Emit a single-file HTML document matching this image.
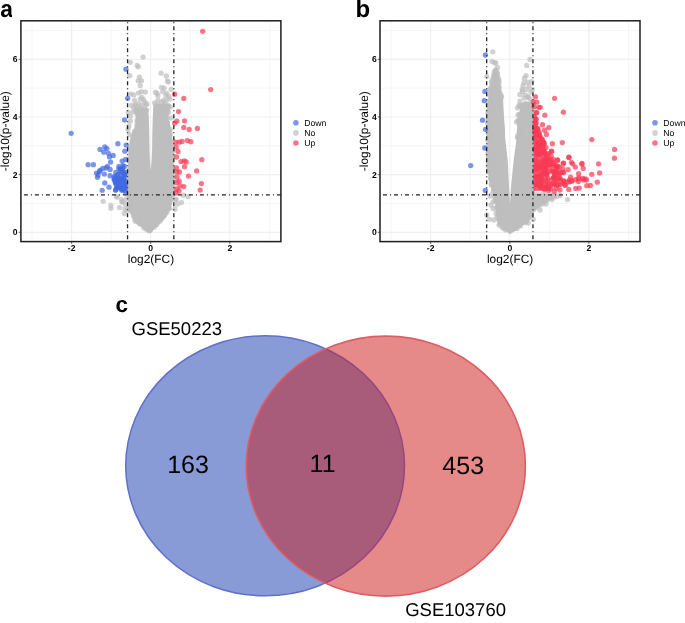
<!DOCTYPE html><html><head><meta charset="utf-8"><style>html,body{margin:0;padding:0;background:#fff;}svg{display:block;will-change:transform;}text{font-family:"Liberation Sans",sans-serif;fill:#000;text-rendering:geometricPrecision;}</style></head><body>
<svg width="685" height="623" viewBox="0 0 685 623">
<rect width="685" height="623" fill="#fff"/>
<defs><clipPath id="ca"><rect x="0" y="0" width="12.1" height="20"/></clipPath></defs><g clip-path="url(#ca)"><text transform="translate(0.2,16.8) scale(0.95,1)" font-size="24" font-weight="bold">a</text></g>
<text x="355.6" y="16.9" font-size="24" font-weight="bold">b</text>
<line x1="32.05" y1="20.8" x2="32.05" y2="241.6" stroke="#f6f6f6" stroke-width="1"/>
<line x1="111.15" y1="20.8" x2="111.15" y2="241.6" stroke="#f6f6f6" stroke-width="1"/>
<line x1="190.25" y1="20.8" x2="190.25" y2="241.6" stroke="#f6f6f6" stroke-width="1"/>
<line x1="269.35" y1="20.8" x2="269.35" y2="241.6" stroke="#f6f6f6" stroke-width="1"/>
<line x1="20.9" y1="203.47" x2="280.9" y2="203.47" stroke="#f6f6f6" stroke-width="1"/>
<line x1="20.9" y1="145.81" x2="280.9" y2="145.81" stroke="#f6f6f6" stroke-width="1"/>
<line x1="20.9" y1="88.15" x2="280.9" y2="88.15" stroke="#f6f6f6" stroke-width="1"/>
<line x1="20.9" y1="30.49" x2="280.9" y2="30.49" stroke="#f6f6f6" stroke-width="1"/>
<line x1="71.6" y1="20.8" x2="71.6" y2="241.6" stroke="#f0f0f0" stroke-width="1.2"/>
<line x1="150.7" y1="20.8" x2="150.7" y2="241.6" stroke="#f0f0f0" stroke-width="1.2"/>
<line x1="229.8" y1="20.8" x2="229.8" y2="241.6" stroke="#f0f0f0" stroke-width="1.2"/>
<line x1="20.9" y1="232.3" x2="280.9" y2="232.3" stroke="#f0f0f0" stroke-width="1.2"/>
<line x1="20.9" y1="174.64" x2="280.9" y2="174.64" stroke="#f0f0f0" stroke-width="1.2"/>
<line x1="20.9" y1="116.98" x2="280.9" y2="116.98" stroke="#f0f0f0" stroke-width="1.2"/>
<line x1="20.9" y1="59.32" x2="280.9" y2="59.32" stroke="#f0f0f0" stroke-width="1.2"/>
<path d="M150.6,233.4 L148.3,232.2 L143.5,228.6 L137.8,224.2 L133.5,219.8 L131.2,214.2 L129.3,206.9 L128.4,199.6 L127.8,195.0 L127.9,180.0 L128.2,170.0 L128.6,160.0 L129.2,150.0 L129.8,145.0 L130.8,140.0 L132.4,135.0 L134.0,130.0 L135.4,125.0 L136.0,120.0 L135.5,115.0 L134.8,111.0 L135.0,108.5 L138.0,107.8 L143.0,107.8 L148.3,108.2 L148.5,113.0 L148.9,120.0 L149.2,130.0 L149.4,140.0 L149.5,150.0 L149.9,160.0 L150.4,166.0 L150.7,171.0 L151.1,166.0 L151.6,160.0 L152.1,150.0 L152.2,140.0 L152.4,130.0 L152.7,120.0 L153.0,112.0 L153.3,106.0 L155.0,104.2 L160.0,103.8 L165.0,103.8 L169.5,104.5 L170.0,108.0 L169.3,112.0 L168.2,115.0 L168.5,120.0 L170.0,125.0 L171.0,130.0 L172.0,140.0 L173.0,150.0 L173.4,165.0 L173.6,180.0 L173.6,195.0 L172.8,199.6 L171.0,206.9 L167.2,214.2 L162.8,220.0 L158.5,224.4 L154.3,228.6 L152.6,231.6Z" fill="rgb(190,190,190)" fill-opacity="1.0"/><g fill="rgb(190,190,190)" fill-opacity="0.7"><circle cx="148.8" cy="230.8" r="2.65"/><circle cx="146.8" cy="229.6" r="2.65"/><circle cx="145.7" cy="226.9" r="2.65"/><circle cx="143.9" cy="228.1" r="2.65"/><circle cx="143.0" cy="225.5" r="2.65"/><circle cx="140.2" cy="224.1" r="2.65"/><circle cx="139.0" cy="223.1" r="2.65"/><circle cx="138.6" cy="221.6" r="2.65"/><circle cx="135.8" cy="221.4" r="2.65"/><circle cx="134.8" cy="219.9" r="2.65"/><circle cx="135.4" cy="217.5" r="2.65"/><circle cx="133.3" cy="216.0" r="2.65"/><circle cx="134.3" cy="214.5" r="2.65"/><circle cx="132.3" cy="212.2" r="2.65"/><circle cx="130.9" cy="210.9" r="2.65"/><circle cx="130.3" cy="209.1" r="2.65"/><circle cx="130.3" cy="207.8" r="2.65"/><circle cx="129.6" cy="206.0" r="2.65"/><circle cx="131.4" cy="203.2" r="2.65"/><circle cx="131.0" cy="202.7" r="2.65"/><circle cx="130.1" cy="199.5" r="2.65"/><circle cx="130.2" cy="197.9" r="2.65"/><circle cx="129.7" cy="195.9" r="2.65"/><circle cx="129.1" cy="194.4" r="2.65"/><circle cx="128.3" cy="192.0" r="2.65"/><circle cx="128.2" cy="190.0" r="2.65"/><circle cx="128.1" cy="187.8" r="2.65"/><circle cx="130.2" cy="186.3" r="2.65"/><circle cx="128.2" cy="184.0" r="2.65"/><circle cx="129.2" cy="182.1" r="2.65"/><circle cx="130.1" cy="180.6" r="2.65"/><circle cx="129.3" cy="178.4" r="2.65"/><circle cx="130.6" cy="177.5" r="2.65"/><circle cx="128.3" cy="174.3" r="2.65"/><circle cx="128.8" cy="173.8" r="2.65"/><circle cx="130.6" cy="171.3" r="2.65"/><circle cx="129.0" cy="169.4" r="2.65"/><circle cx="131.0" cy="166.4" r="2.65"/><circle cx="131.1" cy="164.9" r="2.65"/><circle cx="130.4" cy="162.6" r="2.65"/><circle cx="128.8" cy="160.2" r="2.65"/><circle cx="128.9" cy="159.0" r="2.65"/><circle cx="131.4" cy="157.5" r="2.65"/><circle cx="131.6" cy="155.0" r="2.65"/><circle cx="130.7" cy="153.7" r="2.65"/><circle cx="131.5" cy="150.9" r="2.65"/><circle cx="129.8" cy="150.0" r="2.65"/><circle cx="129.9" cy="146.8" r="2.65"/><circle cx="132.0" cy="143.1" r="2.65"/><circle cx="131.9" cy="141.6" r="2.65"/><circle cx="132.5" cy="138.8" r="2.65"/><circle cx="133.2" cy="136.5" r="2.65"/><circle cx="134.6" cy="133.1" r="2.65"/><circle cx="134.4" cy="131.7" r="2.65"/><circle cx="136.1" cy="129.9" r="2.65"/><circle cx="136.8" cy="125.4" r="2.65"/><circle cx="138.3" cy="124.0" r="2.65"/><circle cx="137.1" cy="121.6" r="2.65"/><circle cx="137.2" cy="119.8" r="2.65"/><circle cx="138.2" cy="115.7" r="2.65"/><circle cx="136.8" cy="113.5" r="2.65"/><circle cx="136.8" cy="111.3" r="2.65"/><circle cx="135.8" cy="109.3" r="2.65"/><circle cx="135.7" cy="111.1" r="2.65"/><circle cx="139.7" cy="108.1" r="2.65"/><circle cx="141.1" cy="109.4" r="2.65"/><circle cx="144.4" cy="109.9" r="2.65"/><circle cx="146.5" cy="110.1" r="2.65"/><circle cx="156.0" cy="105.4" r="2.65"/><circle cx="158.4" cy="105.8" r="2.65"/><circle cx="161.9" cy="106.5" r="2.65"/><circle cx="163.9" cy="104.7" r="2.65"/><circle cx="165.4" cy="106.1" r="2.65"/><circle cx="168.7" cy="106.6" r="2.65"/><circle cx="167.9" cy="105.4" r="2.65"/><circle cx="167.3" cy="109.0" r="2.65"/><circle cx="167.6" cy="110.3" r="2.65"/><circle cx="166.8" cy="113.9" r="2.65"/><circle cx="166.0" cy="117.3" r="2.65"/><circle cx="167.3" cy="118.4" r="2.65"/><circle cx="167.6" cy="122.7" r="2.65"/><circle cx="167.0" cy="123.8" r="2.65"/><circle cx="168.0" cy="126.8" r="2.65"/><circle cx="170.3" cy="129.6" r="2.65"/><circle cx="169.0" cy="130.6" r="2.65"/><circle cx="170.2" cy="133.7" r="2.65"/><circle cx="169.7" cy="135.8" r="2.65"/><circle cx="169.6" cy="136.5" r="2.65"/><circle cx="169.9" cy="139.8" r="2.65"/><circle cx="170.4" cy="140.9" r="2.65"/><circle cx="170.6" cy="143.0" r="2.65"/><circle cx="170.2" cy="146.1" r="2.65"/><circle cx="172.3" cy="146.0" r="2.65"/><circle cx="172.7" cy="149.8" r="2.65"/><circle cx="172.7" cy="150.8" r="2.65"/><circle cx="170.9" cy="153.7" r="2.65"/><circle cx="172.5" cy="155.2" r="2.65"/><circle cx="171.7" cy="156.9" r="2.65"/><circle cx="171.3" cy="158.1" r="2.65"/><circle cx="170.6" cy="159.9" r="2.65"/><circle cx="171.3" cy="162.4" r="2.65"/><circle cx="170.7" cy="164.7" r="2.65"/><circle cx="172.4" cy="166.7" r="2.65"/><circle cx="173.0" cy="168.6" r="2.65"/><circle cx="172.2" cy="170.5" r="2.65"/><circle cx="172.6" cy="170.7" r="2.65"/><circle cx="171.5" cy="172.8" r="2.65"/><circle cx="172.1" cy="175.6" r="2.65"/><circle cx="173.2" cy="177.0" r="2.65"/><circle cx="171.7" cy="179.3" r="2.65"/><circle cx="173.0" cy="180.5" r="2.65"/><circle cx="172.8" cy="182.8" r="2.65"/><circle cx="171.3" cy="184.4" r="2.65"/><circle cx="172.9" cy="186.6" r="2.65"/><circle cx="172.9" cy="187.8" r="2.65"/><circle cx="172.9" cy="191.1" r="2.65"/><circle cx="170.8" cy="192.8" r="2.65"/><circle cx="173.0" cy="194.3" r="2.65"/><circle cx="171.5" cy="194.8" r="2.65"/><circle cx="171.7" cy="197.7" r="2.65"/><circle cx="171.1" cy="200.0" r="2.65"/><circle cx="169.3" cy="202.2" r="2.65"/><circle cx="169.5" cy="202.8" r="2.65"/><circle cx="168.8" cy="204.7" r="2.65"/><circle cx="169.6" cy="208.4" r="2.65"/><circle cx="168.6" cy="208.2" r="2.65"/><circle cx="167.0" cy="210.2" r="2.65"/><circle cx="166.8" cy="212.5" r="2.65"/><circle cx="165.1" cy="213.9" r="2.65"/><circle cx="164.3" cy="214.8" r="2.65"/><circle cx="163.8" cy="216.5" r="2.65"/><circle cx="161.7" cy="218.5" r="2.65"/><circle cx="161.0" cy="218.5" r="2.65"/><circle cx="160.0" cy="221.2" r="2.65"/><circle cx="157.5" cy="222.8" r="2.65"/><circle cx="156.5" cy="224.7" r="2.65"/><circle cx="155.2" cy="225.1" r="2.65"/><circle cx="154.3" cy="227.2" r="2.65"/></g><g fill="rgb(190,190,190)" fill-opacity="0.7"><circle cx="143.1" cy="57.1" r="2.65"/><circle cx="130.3" cy="62.3" r="2.65"/><circle cx="137.2" cy="65.4" r="2.65"/><circle cx="138.2" cy="66.8" r="2.65"/><circle cx="129.8" cy="75.6" r="2.65"/><circle cx="139.4" cy="77.2" r="2.65"/><circle cx="138.2" cy="80.8" r="2.65"/><circle cx="141.5" cy="80.8" r="2.65"/><circle cx="140.2" cy="85.6" r="2.65"/><circle cx="161.1" cy="73.2" r="2.65"/><circle cx="166.3" cy="76.0" r="2.65"/><circle cx="168.3" cy="82.0" r="2.65"/><circle cx="167.5" cy="81.0" r="2.65"/><circle cx="171.1" cy="89.3" r="2.65"/><circle cx="141.5" cy="91.7" r="2.65"/><circle cx="145.5" cy="92.1" r="2.65"/><circle cx="138.6" cy="92.9" r="2.65"/><circle cx="133.8" cy="94.9" r="2.65"/><circle cx="130.6" cy="94.1" r="2.65"/><circle cx="141.9" cy="97.3" r="2.65"/><circle cx="140.2" cy="98.9" r="2.65"/><circle cx="143.5" cy="99.7" r="2.65"/><circle cx="134.6" cy="100.5" r="2.65"/><circle cx="144.7" cy="102.1" r="2.65"/><circle cx="131.4" cy="105.3" r="2.65"/><circle cx="135.4" cy="104.5" r="2.65"/><circle cx="139.0" cy="103.7" r="2.65"/><circle cx="145.5" cy="105.3" r="2.65"/><circle cx="142.0" cy="105.5" r="2.65"/><circle cx="147.0" cy="104.0" r="2.65"/><circle cx="128.2" cy="112.5" r="2.65"/><circle cx="133.8" cy="107.7" r="2.65"/><circle cx="133.0" cy="111.7" r="2.65"/><circle cx="136.5" cy="106.0" r="2.65"/><circle cx="161.5" cy="87.3" r="2.65"/><circle cx="164.3" cy="88.1" r="2.65"/><circle cx="157.1" cy="93.3" r="2.65"/><circle cx="155.5" cy="92.5" r="2.65"/><circle cx="157.9" cy="95.7" r="2.65"/><circle cx="162.7" cy="91.7" r="2.65"/><circle cx="166.7" cy="93.3" r="2.65"/><circle cx="165.9" cy="95.7" r="2.65"/><circle cx="168.7" cy="96.5" r="2.65"/><circle cx="170.0" cy="98.9" r="2.65"/><circle cx="154.7" cy="102.9" r="2.65"/><circle cx="163.5" cy="100.5" r="2.65"/><circle cx="161.1" cy="102.1" r="2.65"/><circle cx="166.0" cy="101.0" r="2.65"/><circle cx="158.0" cy="100.5" r="2.65"/><circle cx="170.3" cy="106.9" r="2.65"/><circle cx="128.0" cy="129.5" r="2.65"/><circle cx="129.9" cy="134.7" r="2.65"/><circle cx="130.5" cy="121.0" r="2.65"/><circle cx="129.0" cy="126.0" r="2.65"/><circle cx="171.5" cy="118.0" r="2.65"/><circle cx="168.4" cy="112.2" r="2.65"/><circle cx="130.5" cy="116.0" r="2.65"/><circle cx="103.2" cy="201.3" r="2.65"/><circle cx="110.9" cy="205.3" r="2.65"/><circle cx="110.9" cy="208.3" r="2.65"/><circle cx="119.6" cy="207.6" r="2.65"/><circle cx="121.9" cy="201.8" r="2.65"/><circle cx="124.3" cy="213.5" r="2.65"/><circle cx="117.2" cy="197.1" r="2.65"/><circle cx="116.4" cy="196.5" r="2.65"/><circle cx="121.6" cy="199.7" r="2.65"/><circle cx="122.8" cy="202.2" r="2.65"/><circle cx="124.8" cy="208.6" r="2.65"/><circle cx="125.5" cy="204.0" r="2.65"/><circle cx="126.5" cy="199.0" r="2.65"/><circle cx="127.0" cy="210.0" r="2.65"/><circle cx="181.5" cy="202.5" r="2.65"/><circle cx="188.0" cy="196.6" r="2.65"/><circle cx="183.4" cy="195.2" r="2.65"/><circle cx="175.7" cy="199.4" r="2.65"/><circle cx="176.1" cy="199.7" r="2.65"/><circle cx="177.5" cy="204.0" r="2.65"/><circle cx="175.0" cy="209.0" r="2.65"/></g><g fill="rgb(65,105,225)" fill-opacity="0.7"><circle cx="118.7" cy="177.6" r="2.65"/><circle cx="124.4" cy="174.7" r="2.65"/><circle cx="119.4" cy="178.5" r="2.65"/><circle cx="115.5" cy="176.1" r="2.65"/><circle cx="120.9" cy="185.0" r="2.65"/><circle cx="125.1" cy="190.4" r="2.65"/><circle cx="121.1" cy="179.4" r="2.65"/><circle cx="118.6" cy="186.5" r="2.65"/><circle cx="119.5" cy="180.2" r="2.65"/><circle cx="119.3" cy="180.9" r="2.65"/><circle cx="118.8" cy="168.8" r="2.65"/><circle cx="125.3" cy="191.4" r="2.65"/><circle cx="123.4" cy="182.3" r="2.65"/><circle cx="122.5" cy="172.6" r="2.65"/><circle cx="123.5" cy="172.2" r="2.65"/><circle cx="124.8" cy="186.7" r="2.65"/><circle cx="124.2" cy="174.8" r="2.65"/><circle cx="125.1" cy="172.5" r="2.65"/><circle cx="114.2" cy="179.8" r="2.65"/><circle cx="122.6" cy="168.5" r="2.65"/><circle cx="124.9" cy="183.9" r="2.65"/><circle cx="122.9" cy="165.6" r="2.65"/><circle cx="120.0" cy="174.1" r="2.65"/><circle cx="115.6" cy="183.1" r="2.65"/><circle cx="114.9" cy="180.3" r="2.65"/><circle cx="125.0" cy="185.3" r="2.65"/><circle cx="116.9" cy="187.9" r="2.65"/><circle cx="115.8" cy="172.4" r="2.65"/><circle cx="123.6" cy="180.2" r="2.65"/><circle cx="122.6" cy="170.4" r="2.65"/><circle cx="114.4" cy="178.4" r="2.65"/><circle cx="116.2" cy="178.9" r="2.65"/><circle cx="117.8" cy="174.3" r="2.65"/><circle cx="124.8" cy="175.2" r="2.65"/><circle cx="120.2" cy="187.3" r="2.65"/><circle cx="124.2" cy="185.8" r="2.65"/><circle cx="122.2" cy="189.6" r="2.65"/><circle cx="115.7" cy="189.9" r="2.65"/><circle cx="123.9" cy="179.0" r="2.65"/><circle cx="116.2" cy="182.2" r="2.65"/><circle cx="116.4" cy="185.9" r="2.65"/><circle cx="120.5" cy="169.2" r="2.65"/><circle cx="115.4" cy="182.7" r="2.65"/><circle cx="120.0" cy="186.9" r="2.65"/><circle cx="120.7" cy="168.8" r="2.65"/><circle cx="124.3" cy="166.4" r="2.65"/><circle cx="117.6" cy="188.1" r="2.65"/><circle cx="125.1" cy="180.7" r="2.65"/><circle cx="121.6" cy="178.4" r="2.65"/><circle cx="121.7" cy="190.3" r="2.65"/><circle cx="119.1" cy="183.0" r="2.65"/><circle cx="114.2" cy="177.2" r="2.65"/><circle cx="122.1" cy="188.4" r="2.65"/><circle cx="122.1" cy="182.2" r="2.65"/><circle cx="122.8" cy="188.8" r="2.65"/><circle cx="117.5" cy="181.6" r="2.65"/><circle cx="124.1" cy="187.4" r="2.65"/><circle cx="118.3" cy="184.9" r="2.65"/><circle cx="123.7" cy="178.0" r="2.65"/><circle cx="120.8" cy="172.0" r="2.65"/></g><g fill="rgb(65,105,225)" fill-opacity="0.7"><circle cx="71.2" cy="133.3" r="2.65"/><circle cx="117.9" cy="143.7" r="2.65"/><circle cx="126.2" cy="145.1" r="2.65"/><circle cx="124.8" cy="151.2" r="2.65"/><circle cx="100.1" cy="149.4" r="2.65"/><circle cx="104.8" cy="147.0" r="2.65"/><circle cx="106.9" cy="148.6" r="2.65"/><circle cx="103.8" cy="152.2" r="2.65"/><circle cx="108.5" cy="153.3" r="2.65"/><circle cx="113.2" cy="155.4" r="2.65"/><circle cx="109.5" cy="156.9" r="2.65"/><circle cx="110.6" cy="162.1" r="2.65"/><circle cx="88.1" cy="164.7" r="2.65"/><circle cx="93.4" cy="164.7" r="2.65"/><circle cx="125.7" cy="159.5" r="2.65"/><circle cx="122.1" cy="161.1" r="2.65"/><circle cx="107.4" cy="166.3" r="2.65"/><circle cx="102.7" cy="168.4" r="2.65"/><circle cx="96.5" cy="173.1" r="2.65"/><circle cx="97.5" cy="177.3" r="2.65"/><circle cx="99.6" cy="171.5" r="2.65"/><circle cx="104.3" cy="174.1" r="2.65"/><circle cx="110.1" cy="169.4" r="2.65"/><circle cx="118.9" cy="166.3" r="2.65"/><circle cx="110.1" cy="175.7" r="2.65"/><circle cx="104.8" cy="183.0" r="2.65"/><circle cx="109.0" cy="187.2" r="2.65"/><circle cx="102.2" cy="190.3" r="2.65"/><circle cx="106.0" cy="168.0" r="2.65"/><circle cx="100.0" cy="170.5" r="2.65"/><circle cx="98.0" cy="175.0" r="2.65"/><circle cx="125.9" cy="69.2" r="2.65"/><circle cx="127.6" cy="98.3" r="2.65"/><circle cx="124.5" cy="119.9" r="2.65"/><circle cx="115.5" cy="190.1" r="2.65"/></g><g fill="rgb(248,58,85)" fill-opacity="0.7"><circle cx="202.7" cy="31.3" r="2.65"/><circle cx="210.7" cy="89.6" r="2.65"/><circle cx="174.7" cy="94.2" r="2.65"/><circle cx="183.8" cy="98.4" r="2.65"/><circle cx="178.5" cy="111.6" r="2.65"/><circle cx="176.9" cy="121.1" r="2.65"/><circle cx="174.7" cy="123.1" r="2.65"/><circle cx="184.5" cy="120.8" r="2.65"/><circle cx="183.8" cy="127.5" r="2.65"/><circle cx="189.2" cy="129.5" r="2.65"/><circle cx="197.4" cy="128.4" r="2.65"/><circle cx="175.7" cy="142.2" r="2.65"/><circle cx="179.2" cy="142.2" r="2.65"/><circle cx="182.0" cy="141.5" r="2.65"/><circle cx="187.3" cy="140.6" r="2.65"/><circle cx="190.8" cy="141.7" r="2.65"/><circle cx="178.0" cy="151.5" r="2.65"/><circle cx="201.8" cy="159.7" r="2.65"/><circle cx="181.0" cy="161.6" r="2.65"/><circle cx="184.3" cy="160.9" r="2.65"/><circle cx="186.2" cy="162.0" r="2.65"/><circle cx="176.4" cy="167.9" r="2.65"/><circle cx="184.5" cy="166.7" r="2.65"/><circle cx="196.7" cy="170.9" r="2.65"/><circle cx="176.8" cy="171.9" r="2.65"/><circle cx="179.5" cy="172.0" r="2.65"/><circle cx="188.5" cy="176.1" r="2.65"/><circle cx="179.2" cy="181.2" r="2.65"/><circle cx="176.5" cy="182.5" r="2.65"/><circle cx="201.4" cy="183.6" r="2.65"/><circle cx="183.8" cy="186.6" r="2.65"/><circle cx="200.2" cy="190.1" r="2.65"/><circle cx="176.8" cy="188.9" r="2.65"/><circle cx="179.0" cy="191.0" r="2.65"/><circle cx="176.2" cy="147.0" r="2.65"/><circle cx="176.5" cy="157.0" r="2.65"/><circle cx="177.0" cy="177.0" r="2.65"/><circle cx="180.0" cy="186.0" r="2.65"/><circle cx="176.0" cy="193.0" r="2.65"/></g>
<line x1="127.56" y1="241.6" x2="127.56" y2="20.8" stroke="#222" stroke-width="1.3" stroke-dasharray="1 3 4 3" stroke-dashoffset="1.7"/>
<line x1="173.84" y1="241.6" x2="173.84" y2="20.8" stroke="#222" stroke-width="1.3" stroke-dasharray="1 3 4 3" stroke-dashoffset="1.7"/>
<line x1="20.9" y1="194.79" x2="280.9" y2="194.79" stroke="#222" stroke-width="1.3" stroke-dasharray="4 3 1 3" stroke-dashoffset="-3"/>
<rect x="20.9" y="20.8" width="260.0" height="220.79999999999998" fill="none" stroke="#1e1e1e" stroke-width="1.5"/>
<line x1="71.6" y1="241.6" x2="71.6" y2="243.79999999999998" stroke="#333" stroke-width="0.8"/>
<text x="71.6" y="250.9" font-size="8.6" font-weight="bold" text-anchor="middle">-2</text>
<line x1="150.7" y1="241.6" x2="150.7" y2="243.79999999999998" stroke="#333" stroke-width="0.8"/>
<text x="150.7" y="250.9" font-size="8.6" font-weight="bold" text-anchor="middle">0</text>
<line x1="229.8" y1="241.6" x2="229.8" y2="243.79999999999998" stroke="#333" stroke-width="0.8"/>
<text x="229.8" y="250.9" font-size="8.6" font-weight="bold" text-anchor="middle">2</text>
<line x1="18.7" y1="232.3" x2="20.9" y2="232.3" stroke="#333" stroke-width="0.8"/>
<text x="17.6" y="235.4" font-size="8.6" font-weight="bold" text-anchor="end">0</text>
<line x1="18.7" y1="174.64" x2="20.9" y2="174.64" stroke="#333" stroke-width="0.8"/>
<text x="17.6" y="177.73999999999998" font-size="8.6" font-weight="bold" text-anchor="end">2</text>
<line x1="18.7" y1="116.98" x2="20.9" y2="116.98" stroke="#333" stroke-width="0.8"/>
<text x="17.6" y="120.08" font-size="8.6" font-weight="bold" text-anchor="end">4</text>
<line x1="18.7" y1="59.32" x2="20.9" y2="59.32" stroke="#333" stroke-width="0.8"/>
<text x="17.6" y="62.42" font-size="8.6" font-weight="bold" text-anchor="end">6</text>
<text x="151" y="263.3" font-size="11.9" text-anchor="middle">log2(FC)</text>
<text transform="translate(8.9,131.2) rotate(-90)" font-size="11.9" text-anchor="middle">-log10(p-value)</text>
<circle cx="295.9" cy="122.8" r="2.8" fill="rgb(65,105,225)" fill-opacity="0.7"/>
<text x="304.2" y="125.7" font-size="8.7">Down</text>
<circle cx="295.9" cy="132.9" r="2.8" fill="rgb(190,190,190)" fill-opacity="0.7"/>
<text x="304.2" y="135.8" font-size="8.7">No</text>
<circle cx="295.9" cy="143.0" r="2.8" fill="rgb(248,58,85)" fill-opacity="0.7"/>
<text x="304.2" y="145.9" font-size="8.7">Up</text>
<line x1="391.15" y1="20.8" x2="391.15" y2="241.6" stroke="#f6f6f6" stroke-width="1"/>
<line x1="470.25" y1="20.8" x2="470.25" y2="241.6" stroke="#f6f6f6" stroke-width="1"/>
<line x1="549.35" y1="20.8" x2="549.35" y2="241.6" stroke="#f6f6f6" stroke-width="1"/>
<line x1="628.45" y1="20.8" x2="628.45" y2="241.6" stroke="#f6f6f6" stroke-width="1"/>
<line x1="380.0" y1="203.47" x2="640.0" y2="203.47" stroke="#f6f6f6" stroke-width="1"/>
<line x1="380.0" y1="145.81" x2="640.0" y2="145.81" stroke="#f6f6f6" stroke-width="1"/>
<line x1="380.0" y1="88.15" x2="640.0" y2="88.15" stroke="#f6f6f6" stroke-width="1"/>
<line x1="380.0" y1="30.49" x2="640.0" y2="30.49" stroke="#f6f6f6" stroke-width="1"/>
<line x1="430.7" y1="20.8" x2="430.7" y2="241.6" stroke="#f0f0f0" stroke-width="1.2"/>
<line x1="509.8" y1="20.8" x2="509.8" y2="241.6" stroke="#f0f0f0" stroke-width="1.2"/>
<line x1="588.9" y1="20.8" x2="588.9" y2="241.6" stroke="#f0f0f0" stroke-width="1.2"/>
<line x1="380.0" y1="232.3" x2="640.0" y2="232.3" stroke="#f0f0f0" stroke-width="1.2"/>
<line x1="380.0" y1="174.64" x2="640.0" y2="174.64" stroke="#f0f0f0" stroke-width="1.2"/>
<line x1="380.0" y1="116.98" x2="640.0" y2="116.98" stroke="#f0f0f0" stroke-width="1.2"/>
<line x1="380.0" y1="59.32" x2="640.0" y2="59.32" stroke="#f0f0f0" stroke-width="1.2"/>
<path d="M509.8,234.2 L506.3,231.5 L501.2,227.0 L498.0,222.5 L496.5,217.0 L495.8,210.0 L495.3,203.0 L494.3,197.0 L492.5,192.0 L490.5,186.0 L488.8,177.0 L487.8,168.0 L487.6,150.0 L487.4,130.0 L487.4,110.0 L487.8,104.0 L488.8,97.0 L489.8,90.0 L491.0,82.0 L492.5,75.0 L494.0,70.5 L495.8,69.0 L497.3,70.5 L498.5,75.0 L499.6,82.0 L500.5,90.0 L503.1,99.6 L503.6,109.3 L504.1,118.9 L505.0,128.5 L505.2,138.2 L506.0,145.0 L507.0,154.6 L508.0,164.3 L508.4,173.9 L508.9,183.5 L509.4,193.2 L510.0,204.0 L510.6,193.2 L511.3,183.5 L512.3,173.9 L513.2,164.3 L514.4,154.6 L515.8,145.0 L516.4,138.2 L517.2,128.5 L517.8,118.9 L519.5,112.0 L520.5,108.0 L521.0,104.0 L524.0,102.5 L528.0,102.0 L531.0,103.0 L533.5,104.0 L533.5,194.0 L548.0,194.2 L556.0,194.6 L553.0,197.5 L549.0,200.0 L543.8,203.5 L538.0,207.5 L534.0,212.0 L530.5,219.0 L524.0,224.5 L516.0,230.5Z" fill="rgb(190,190,190)" fill-opacity="1.0"/><g fill="rgb(190,190,190)" fill-opacity="0.7"><circle cx="505.8" cy="229.9" r="2.65"/><circle cx="503.5" cy="228.5" r="2.65"/><circle cx="501.9" cy="227.1" r="2.65"/><circle cx="502.5" cy="226.0" r="2.65"/><circle cx="500.0" cy="223.4" r="2.65"/><circle cx="500.1" cy="221.2" r="2.65"/><circle cx="499.8" cy="221.1" r="2.65"/><circle cx="498.5" cy="219.3" r="2.65"/><circle cx="499.2" cy="218.2" r="2.65"/><circle cx="496.9" cy="216.3" r="2.65"/><circle cx="498.5" cy="212.6" r="2.65"/><circle cx="498.3" cy="210.2" r="2.65"/><circle cx="498.2" cy="208.4" r="2.65"/><circle cx="496.2" cy="207.6" r="2.65"/><circle cx="497.7" cy="204.7" r="2.65"/><circle cx="495.5" cy="200.9" r="2.65"/><circle cx="495.2" cy="200.4" r="2.65"/><circle cx="495.5" cy="197.8" r="2.65"/><circle cx="494.4" cy="196.4" r="2.65"/><circle cx="493.0" cy="192.7" r="2.65"/><circle cx="493.8" cy="189.6" r="2.65"/><circle cx="493.8" cy="188.5" r="2.65"/><circle cx="493.6" cy="186.9" r="2.65"/><circle cx="491.6" cy="185.2" r="2.65"/><circle cx="491.2" cy="184.0" r="2.65"/><circle cx="491.7" cy="181.4" r="2.65"/><circle cx="490.7" cy="178.8" r="2.65"/><circle cx="490.6" cy="177.9" r="2.65"/><circle cx="491.3" cy="175.4" r="2.65"/><circle cx="491.1" cy="173.1" r="2.65"/><circle cx="488.8" cy="172.0" r="2.65"/><circle cx="488.9" cy="171.5" r="2.65"/><circle cx="489.2" cy="169.0" r="2.65"/><circle cx="490.5" cy="168.0" r="2.65"/><circle cx="488.1" cy="165.9" r="2.65"/><circle cx="488.6" cy="164.0" r="2.65"/><circle cx="488.1" cy="160.9" r="2.65"/><circle cx="489.6" cy="160.2" r="2.65"/><circle cx="488.5" cy="158.0" r="2.65"/><circle cx="488.5" cy="157.0" r="2.65"/><circle cx="488.2" cy="154.0" r="2.65"/><circle cx="488.0" cy="153.5" r="2.65"/><circle cx="489.5" cy="151.6" r="2.65"/><circle cx="488.0" cy="148.9" r="2.65"/><circle cx="488.0" cy="147.6" r="2.65"/><circle cx="489.5" cy="145.4" r="2.65"/><circle cx="489.9" cy="143.9" r="2.65"/><circle cx="489.9" cy="142.6" r="2.65"/><circle cx="487.7" cy="139.7" r="2.65"/><circle cx="490.2" cy="138.8" r="2.65"/><circle cx="488.9" cy="135.5" r="2.65"/><circle cx="489.6" cy="134.7" r="2.65"/><circle cx="488.1" cy="132.5" r="2.65"/><circle cx="489.1" cy="131.0" r="2.65"/><circle cx="487.8" cy="129.9" r="2.65"/><circle cx="488.9" cy="128.1" r="2.65"/><circle cx="489.9" cy="124.8" r="2.65"/><circle cx="487.7" cy="123.2" r="2.65"/><circle cx="488.2" cy="121.6" r="2.65"/><circle cx="489.1" cy="120.7" r="2.65"/><circle cx="488.0" cy="118.8" r="2.65"/><circle cx="489.0" cy="116.7" r="2.65"/><circle cx="488.0" cy="113.6" r="2.65"/><circle cx="489.0" cy="111.9" r="2.65"/><circle cx="488.3" cy="110.9" r="2.65"/><circle cx="489.5" cy="109.2" r="2.65"/><circle cx="490.0" cy="107.4" r="2.65"/><circle cx="487.9" cy="105.3" r="2.65"/><circle cx="489.3" cy="101.9" r="2.65"/><circle cx="490.2" cy="100.8" r="2.65"/><circle cx="490.6" cy="99.4" r="2.65"/><circle cx="489.6" cy="95.3" r="2.65"/><circle cx="490.0" cy="93.9" r="2.65"/><circle cx="490.7" cy="90.7" r="2.65"/><circle cx="490.8" cy="88.8" r="2.65"/><circle cx="491.2" cy="87.4" r="2.65"/><circle cx="492.0" cy="85.7" r="2.65"/><circle cx="491.9" cy="82.6" r="2.65"/><circle cx="491.5" cy="81.4" r="2.65"/><circle cx="493.1" cy="78.4" r="2.65"/><circle cx="493.4" cy="77.6" r="2.65"/><circle cx="493.7" cy="74.8" r="2.65"/><circle cx="494.2" cy="71.9" r="2.65"/><circle cx="495.6" cy="70.1" r="2.65"/><circle cx="495.5" cy="70.3" r="2.65"/><circle cx="497.1" cy="72.3" r="2.65"/><circle cx="497.5" cy="73.7" r="2.65"/><circle cx="497.8" cy="77.2" r="2.65"/><circle cx="498.9" cy="79.7" r="2.65"/><circle cx="498.0" cy="81.1" r="2.65"/><circle cx="499.0" cy="82.4" r="2.65"/><circle cx="498.5" cy="86.0" r="2.65"/><circle cx="499.3" cy="87.5" r="2.65"/><circle cx="498.1" cy="89.7" r="2.65"/><circle cx="499.7" cy="91.8" r="2.65"/><circle cx="499.7" cy="93.6" r="2.65"/><circle cx="501.1" cy="95.2" r="2.65"/><circle cx="501.5" cy="97.2" r="2.65"/><circle cx="500.3" cy="98.4" r="2.65"/><circle cx="517.6" cy="137.4" r="2.65"/><circle cx="517.6" cy="135.9" r="2.65"/><circle cx="519.5" cy="133.3" r="2.65"/><circle cx="519.2" cy="131.6" r="2.65"/><circle cx="519.5" cy="130.5" r="2.65"/><circle cx="519.6" cy="128.0" r="2.65"/><circle cx="520.0" cy="126.4" r="2.65"/><circle cx="519.3" cy="123.9" r="2.65"/><circle cx="518.9" cy="121.6" r="2.65"/><circle cx="518.2" cy="120.4" r="2.65"/><circle cx="519.5" cy="119.3" r="2.65"/><circle cx="520.2" cy="116.4" r="2.65"/><circle cx="519.6" cy="114.2" r="2.65"/><circle cx="522.3" cy="111.9" r="2.65"/><circle cx="522.8" cy="109.4" r="2.65"/><circle cx="522.5" cy="107.1" r="2.65"/><circle cx="521.2" cy="104.9" r="2.65"/><circle cx="524.2" cy="104.3" r="2.65"/><circle cx="525.8" cy="103.4" r="2.65"/><circle cx="527.0" cy="104.6" r="2.65"/><circle cx="529.4" cy="103.9" r="2.65"/><circle cx="533.3" cy="104.2" r="2.65"/><circle cx="531.6" cy="105.1" r="2.65"/><circle cx="530.7" cy="107.4" r="2.65"/><circle cx="532.2" cy="107.8" r="2.65"/><circle cx="531.1" cy="110.5" r="2.65"/><circle cx="533.0" cy="112.3" r="2.65"/><circle cx="531.8" cy="113.7" r="2.65"/><circle cx="531.5" cy="115.2" r="2.65"/><circle cx="531.7" cy="118.4" r="2.65"/><circle cx="533.1" cy="120.1" r="2.65"/><circle cx="531.4" cy="121.3" r="2.65"/><circle cx="532.0" cy="123.8" r="2.65"/><circle cx="531.5" cy="124.5" r="2.65"/><circle cx="532.0" cy="127.4" r="2.65"/><circle cx="531.9" cy="127.9" r="2.65"/><circle cx="532.3" cy="129.4" r="2.65"/><circle cx="531.5" cy="131.8" r="2.65"/><circle cx="532.8" cy="134.2" r="2.65"/><circle cx="532.1" cy="134.6" r="2.65"/><circle cx="533.1" cy="136.9" r="2.65"/><circle cx="531.3" cy="139.6" r="2.65"/><circle cx="531.1" cy="140.5" r="2.65"/><circle cx="531.5" cy="143.6" r="2.65"/><circle cx="531.9" cy="144.7" r="2.65"/><circle cx="532.3" cy="146.6" r="2.65"/><circle cx="531.0" cy="148.5" r="2.65"/><circle cx="531.5" cy="150.4" r="2.65"/><circle cx="531.6" cy="151.8" r="2.65"/><circle cx="532.1" cy="153.1" r="2.65"/><circle cx="531.6" cy="155.2" r="2.65"/><circle cx="532.2" cy="157.5" r="2.65"/><circle cx="531.4" cy="158.1" r="2.65"/><circle cx="533.1" cy="160.6" r="2.65"/><circle cx="532.1" cy="163.2" r="2.65"/><circle cx="532.7" cy="163.4" r="2.65"/><circle cx="532.2" cy="166.0" r="2.65"/><circle cx="532.3" cy="168.3" r="2.65"/><circle cx="533.1" cy="169.7" r="2.65"/><circle cx="531.7" cy="171.3" r="2.65"/><circle cx="531.2" cy="173.9" r="2.65"/><circle cx="532.9" cy="174.7" r="2.65"/><circle cx="532.9" cy="176.1" r="2.65"/><circle cx="531.8" cy="179.1" r="2.65"/><circle cx="532.7" cy="180.1" r="2.65"/><circle cx="531.1" cy="183.0" r="2.65"/><circle cx="532.1" cy="184.1" r="2.65"/><circle cx="531.6" cy="185.9" r="2.65"/><circle cx="532.2" cy="187.1" r="2.65"/><circle cx="530.9" cy="190.1" r="2.65"/><circle cx="532.8" cy="190.8" r="2.65"/><circle cx="532.4" cy="193.6" r="2.65"/><circle cx="533.5" cy="194.9" r="2.65"/><circle cx="537.1" cy="194.3" r="2.65"/><circle cx="538.4" cy="196.7" r="2.65"/><circle cx="540.4" cy="196.3" r="2.65"/><circle cx="541.9" cy="194.4" r="2.65"/><circle cx="543.8" cy="196.6" r="2.65"/><circle cx="544.9" cy="194.6" r="2.65"/><circle cx="546.4" cy="195.4" r="2.65"/><circle cx="548.7" cy="196.6" r="2.65"/><circle cx="551.1" cy="197.0" r="2.65"/><circle cx="552.1" cy="196.2" r="2.65"/><circle cx="554.0" cy="197.2" r="2.65"/><circle cx="554.5" cy="194.8" r="2.65"/><circle cx="551.5" cy="195.6" r="2.65"/><circle cx="551.1" cy="196.4" r="2.65"/><circle cx="549.0" cy="198.2" r="2.65"/><circle cx="546.4" cy="199.6" r="2.65"/><circle cx="546.6" cy="200.4" r="2.65"/><circle cx="544.6" cy="201.5" r="2.65"/><circle cx="542.6" cy="203.8" r="2.65"/><circle cx="540.1" cy="204.6" r="2.65"/><circle cx="538.6" cy="205.4" r="2.65"/><circle cx="537.0" cy="207.3" r="2.65"/><circle cx="534.1" cy="208.1" r="2.65"/><circle cx="533.6" cy="209.6" r="2.65"/><circle cx="531.3" cy="212.2" r="2.65"/><circle cx="531.5" cy="214.5" r="2.65"/><circle cx="531.2" cy="215.2" r="2.65"/><circle cx="529.1" cy="216.3" r="2.65"/><circle cx="528.1" cy="218.2" r="2.65"/><circle cx="526.4" cy="220.4" r="2.65"/><circle cx="526.3" cy="221.6" r="2.65"/><circle cx="525.0" cy="222.5" r="2.65"/><circle cx="522.5" cy="222.6" r="2.65"/><circle cx="520.3" cy="226.0" r="2.65"/><circle cx="518.9" cy="225.2" r="2.65"/><circle cx="517.0" cy="228.4" r="2.65"/><circle cx="514.8" cy="228.3" r="2.65"/></g><g fill="rgb(190,190,190)" fill-opacity="0.7"><circle cx="492.8" cy="51.8" r="2.65"/><circle cx="491.9" cy="61.3" r="2.65"/><circle cx="494.3" cy="62.5" r="2.65"/><circle cx="495.8" cy="63.0" r="2.65"/><circle cx="497.5" cy="67.5" r="2.65"/><circle cx="486.8" cy="76.5" r="2.65"/><circle cx="489.6" cy="89.4" r="2.65"/><circle cx="530.0" cy="59.5" r="2.65"/><circle cx="526.7" cy="65.4" r="2.65"/><circle cx="526.1" cy="75.7" r="2.65"/><circle cx="524.4" cy="78.2" r="2.65"/><circle cx="523.9" cy="82.7" r="2.65"/><circle cx="527.8" cy="82.1" r="2.65"/><circle cx="531.7" cy="81.6" r="2.65"/><circle cx="522.2" cy="89.4" r="2.65"/><circle cx="526.7" cy="89.4" r="2.65"/><circle cx="532.3" cy="89.4" r="2.65"/><circle cx="519.9" cy="94.5" r="2.65"/><circle cx="527.8" cy="97.3" r="2.65"/><circle cx="519.9" cy="101.2" r="2.65"/><circle cx="519.4" cy="106.3" r="2.65"/><circle cx="522.4" cy="91.4" r="2.65"/><circle cx="525.3" cy="94.8" r="2.65"/><circle cx="528.2" cy="96.7" r="2.65"/><circle cx="519.0" cy="105.4" r="2.65"/><circle cx="523.0" cy="86.0" r="2.65"/><circle cx="529.0" cy="86.0" r="2.65"/><circle cx="531.0" cy="92.0" r="2.65"/><circle cx="524.0" cy="98.0" r="2.65"/><circle cx="530.0" cy="99.0" r="2.65"/><circle cx="517.5" cy="108.0" r="2.65"/><circle cx="518.0" cy="115.0" r="2.65"/><circle cx="516.5" cy="122.0" r="2.65"/><circle cx="493.1" cy="201.8" r="2.65"/><circle cx="493.1" cy="208.4" r="2.65"/><circle cx="486.6" cy="214.9" r="2.65"/><circle cx="489.5" cy="219.3" r="2.65"/><circle cx="493.9" cy="220.0" r="2.65"/><circle cx="499.0" cy="225.1" r="2.65"/><circle cx="496.0" cy="213.0" r="2.65"/><circle cx="491.0" cy="205.0" r="2.65"/><circle cx="490.0" cy="196.0" r="2.65"/><circle cx="528.2" cy="223.0" r="2.65"/><circle cx="533.3" cy="219.3" r="2.65"/><circle cx="567.6" cy="199.6" r="2.65"/><circle cx="540.0" cy="210.0" r="2.65"/><circle cx="546.0" cy="204.0" r="2.65"/><circle cx="552.0" cy="199.5" r="2.65"/><circle cx="557.0" cy="196.5" r="2.65"/><circle cx="560.0" cy="195.5" r="2.65"/></g><path d="M533.6,114.0 L536.5,114.0 L537.5,124.0 L539.5,131.0 L542.0,138.0 L545.0,145.0 L546.5,151.0 L547.5,160.0 L548.0,170.0 L548.0,180.0 L549.0,190.5 L533.6,191.0Z" fill="rgb(248,58,85)" fill-opacity="0.85"/><g fill="rgb(248,58,85)" fill-opacity="0.7"><circle cx="545.3" cy="163.5" r="2.65"/><circle cx="535.0" cy="140.5" r="2.65"/><circle cx="540.9" cy="175.9" r="2.65"/><circle cx="550.1" cy="158.9" r="2.65"/><circle cx="547.2" cy="163.8" r="2.65"/><circle cx="538.0" cy="145.8" r="2.65"/><circle cx="538.4" cy="183.7" r="2.65"/><circle cx="536.1" cy="176.6" r="2.65"/><circle cx="536.5" cy="165.8" r="2.65"/><circle cx="542.3" cy="142.9" r="2.65"/><circle cx="536.1" cy="184.4" r="2.65"/><circle cx="537.3" cy="144.4" r="2.65"/><circle cx="537.8" cy="135.4" r="2.65"/><circle cx="538.6" cy="176.3" r="2.65"/><circle cx="543.7" cy="144.1" r="2.65"/><circle cx="550.9" cy="188.7" r="2.65"/><circle cx="550.1" cy="164.8" r="2.65"/><circle cx="537.3" cy="129.1" r="2.65"/><circle cx="542.9" cy="151.6" r="2.65"/><circle cx="535.4" cy="176.9" r="2.65"/><circle cx="544.3" cy="152.2" r="2.65"/><circle cx="539.7" cy="144.7" r="2.65"/><circle cx="543.4" cy="172.8" r="2.65"/><circle cx="537.1" cy="154.7" r="2.65"/><circle cx="538.8" cy="166.6" r="2.65"/><circle cx="535.6" cy="132.5" r="2.65"/><circle cx="542.4" cy="161.8" r="2.65"/><circle cx="536.0" cy="147.3" r="2.65"/><circle cx="539.4" cy="132.9" r="2.65"/><circle cx="545.4" cy="187.9" r="2.65"/><circle cx="545.5" cy="187.7" r="2.65"/><circle cx="538.5" cy="185.1" r="2.65"/><circle cx="551.4" cy="184.1" r="2.65"/><circle cx="534.9" cy="131.8" r="2.65"/><circle cx="535.7" cy="160.3" r="2.65"/><circle cx="542.0" cy="174.0" r="2.65"/><circle cx="553.3" cy="162.0" r="2.65"/><circle cx="539.9" cy="152.9" r="2.65"/><circle cx="545.4" cy="161.0" r="2.65"/><circle cx="540.6" cy="187.0" r="2.65"/><circle cx="541.3" cy="181.0" r="2.65"/><circle cx="541.0" cy="186.7" r="2.65"/><circle cx="546.2" cy="166.6" r="2.65"/><circle cx="550.0" cy="166.4" r="2.65"/><circle cx="537.7" cy="182.1" r="2.65"/><circle cx="544.5" cy="189.6" r="2.65"/><circle cx="547.2" cy="160.8" r="2.65"/><circle cx="547.9" cy="183.2" r="2.65"/><circle cx="542.5" cy="140.0" r="2.65"/><circle cx="551.1" cy="155.8" r="2.65"/><circle cx="535.2" cy="167.7" r="2.65"/><circle cx="554.9" cy="174.9" r="2.65"/><circle cx="554.7" cy="184.0" r="2.65"/><circle cx="546.7" cy="174.2" r="2.65"/><circle cx="555.5" cy="166.0" r="2.65"/><circle cx="546.8" cy="160.6" r="2.65"/><circle cx="537.6" cy="153.4" r="2.65"/><circle cx="540.3" cy="143.1" r="2.65"/><circle cx="542.0" cy="165.7" r="2.65"/><circle cx="541.7" cy="166.6" r="2.65"/><circle cx="551.7" cy="163.6" r="2.65"/><circle cx="535.5" cy="149.7" r="2.65"/><circle cx="540.1" cy="136.6" r="2.65"/><circle cx="539.3" cy="145.2" r="2.65"/><circle cx="539.7" cy="184.7" r="2.65"/><circle cx="545.9" cy="166.8" r="2.65"/><circle cx="538.4" cy="147.8" r="2.65"/><circle cx="548.3" cy="178.5" r="2.65"/><circle cx="540.3" cy="147.4" r="2.65"/><circle cx="553.8" cy="177.6" r="2.65"/><circle cx="539.9" cy="153.7" r="2.65"/><circle cx="549.7" cy="163.9" r="2.65"/><circle cx="539.8" cy="154.3" r="2.65"/><circle cx="543.4" cy="181.0" r="2.65"/><circle cx="537.6" cy="162.1" r="2.65"/><circle cx="553.5" cy="159.5" r="2.65"/><circle cx="543.3" cy="142.5" r="2.65"/><circle cx="536.0" cy="177.9" r="2.65"/><circle cx="554.2" cy="176.8" r="2.65"/><circle cx="542.8" cy="169.7" r="2.65"/><circle cx="554.0" cy="177.7" r="2.65"/><circle cx="539.5" cy="181.5" r="2.65"/><circle cx="535.3" cy="135.1" r="2.65"/><circle cx="535.1" cy="123.9" r="2.65"/><circle cx="538.4" cy="168.2" r="2.65"/><circle cx="538.9" cy="135.4" r="2.65"/><circle cx="537.1" cy="165.7" r="2.65"/><circle cx="546.5" cy="163.0" r="2.65"/><circle cx="544.0" cy="152.0" r="2.65"/><circle cx="553.8" cy="166.1" r="2.65"/><circle cx="556.0" cy="165.5" r="2.65"/><circle cx="544.3" cy="143.0" r="2.65"/><circle cx="548.3" cy="171.3" r="2.65"/><circle cx="536.2" cy="118.8" r="2.65"/><circle cx="535.0" cy="130.3" r="2.65"/><circle cx="537.3" cy="165.7" r="2.65"/><circle cx="548.5" cy="188.5" r="2.65"/><circle cx="556.1" cy="170.7" r="2.65"/><circle cx="539.9" cy="185.3" r="2.65"/><circle cx="548.3" cy="187.5" r="2.65"/><circle cx="556.7" cy="172.2" r="2.65"/><circle cx="541.4" cy="185.1" r="2.65"/><circle cx="548.1" cy="164.4" r="2.65"/><circle cx="535.1" cy="128.6" r="2.65"/><circle cx="545.5" cy="169.4" r="2.65"/><circle cx="553.1" cy="171.6" r="2.65"/><circle cx="542.3" cy="141.0" r="2.65"/><circle cx="548.7" cy="153.6" r="2.65"/><circle cx="543.4" cy="159.8" r="2.65"/><circle cx="537.6" cy="154.0" r="2.65"/><circle cx="555.9" cy="170.6" r="2.65"/><circle cx="540.4" cy="144.0" r="2.65"/><circle cx="537.1" cy="169.9" r="2.65"/><circle cx="547.0" cy="158.4" r="2.65"/><circle cx="541.7" cy="138.8" r="2.65"/><circle cx="546.0" cy="147.4" r="2.65"/><circle cx="538.6" cy="142.5" r="2.65"/><circle cx="539.4" cy="136.2" r="2.65"/><circle cx="542.2" cy="163.5" r="2.65"/><circle cx="543.6" cy="151.9" r="2.65"/><circle cx="540.4" cy="175.8" r="2.65"/><circle cx="538.6" cy="145.6" r="2.65"/><circle cx="541.1" cy="178.4" r="2.65"/><circle cx="549.0" cy="161.8" r="2.65"/><circle cx="550.7" cy="171.1" r="2.65"/><circle cx="540.1" cy="152.8" r="2.65"/><circle cx="549.5" cy="160.1" r="2.65"/><circle cx="554.6" cy="174.2" r="2.65"/><circle cx="543.5" cy="188.6" r="2.65"/><circle cx="535.9" cy="119.5" r="2.65"/><circle cx="537.5" cy="177.6" r="2.65"/><circle cx="543.2" cy="149.9" r="2.65"/><circle cx="548.1" cy="185.9" r="2.65"/><circle cx="538.0" cy="128.5" r="2.65"/><circle cx="553.9" cy="184.0" r="2.65"/><circle cx="555.0" cy="172.2" r="2.65"/><circle cx="547.0" cy="174.3" r="2.65"/><circle cx="540.6" cy="153.4" r="2.65"/><circle cx="553.4" cy="178.2" r="2.65"/><circle cx="535.3" cy="150.2" r="2.65"/><circle cx="542.8" cy="142.5" r="2.65"/><circle cx="536.5" cy="184.8" r="2.65"/><circle cx="546.4" cy="155.7" r="2.65"/><circle cx="553.5" cy="182.9" r="2.65"/><circle cx="547.0" cy="154.2" r="2.65"/><circle cx="548.6" cy="190.5" r="2.65"/><circle cx="539.7" cy="143.1" r="2.65"/><circle cx="552.6" cy="170.7" r="2.65"/><circle cx="546.4" cy="173.2" r="2.65"/><circle cx="549.8" cy="180.7" r="2.65"/></g><g fill="rgb(248,58,85)" fill-opacity="0.7"><circle cx="560.3" cy="179.9" r="2.65"/><circle cx="557.9" cy="166.7" r="2.65"/><circle cx="556.7" cy="166.5" r="2.65"/><circle cx="561.4" cy="172.5" r="2.65"/><circle cx="578.8" cy="177.6" r="2.65"/><circle cx="556.7" cy="185.3" r="2.65"/><circle cx="578.4" cy="181.6" r="2.65"/><circle cx="560.2" cy="184.6" r="2.65"/><circle cx="567.6" cy="181.9" r="2.65"/><circle cx="563.7" cy="172.5" r="2.65"/><circle cx="583.5" cy="180.0" r="2.65"/><circle cx="569.7" cy="181.7" r="2.65"/><circle cx="556.3" cy="179.6" r="2.65"/><circle cx="558.5" cy="175.2" r="2.65"/><circle cx="560.1" cy="173.3" r="2.65"/><circle cx="556.2" cy="174.2" r="2.65"/><circle cx="559.5" cy="166.8" r="2.65"/><circle cx="558.2" cy="170.6" r="2.65"/><circle cx="554.3" cy="178.9" r="2.65"/><circle cx="553.4" cy="164.1" r="2.65"/><circle cx="565.2" cy="185.2" r="2.65"/><circle cx="558.5" cy="184.8" r="2.65"/><circle cx="564.0" cy="180.8" r="2.65"/><circle cx="556.4" cy="188.2" r="2.65"/><circle cx="571.3" cy="181.0" r="2.65"/><circle cx="558.8" cy="177.9" r="2.65"/><circle cx="570.6" cy="177.1" r="2.65"/><circle cx="563.5" cy="181.1" r="2.65"/><circle cx="562.9" cy="168.6" r="2.65"/><circle cx="557.3" cy="179.8" r="2.65"/></g><g fill="rgb(248,58,85)" fill-opacity="0.7"><circle cx="535.5" cy="96.8" r="2.65"/><circle cx="533.2" cy="102.0" r="2.65"/><circle cx="536.8" cy="102.2" r="2.65"/><circle cx="538.8" cy="107.3" r="2.65"/><circle cx="536.8" cy="112.6" r="2.65"/><circle cx="540.2" cy="107.3" r="2.65"/><circle cx="544.9" cy="115.2" r="2.65"/><circle cx="554.6" cy="98.3" r="2.65"/><circle cx="563.4" cy="112.2" r="2.65"/><circle cx="534.3" cy="106.9" r="2.65"/><circle cx="536.3" cy="112.7" r="2.65"/><circle cx="536.3" cy="122.8" r="2.65"/><circle cx="542.5" cy="124.7" r="2.65"/><circle cx="548.8" cy="127.6" r="2.65"/><circle cx="544.5" cy="130.2" r="2.65"/><circle cx="546.4" cy="134.4" r="2.65"/><circle cx="538.2" cy="131.0" r="2.65"/><circle cx="552.4" cy="143.7" r="2.65"/><circle cx="562.3" cy="142.6" r="2.65"/><circle cx="551.4" cy="151.2" r="2.65"/><circle cx="569.0" cy="157.5" r="2.65"/><circle cx="557.5" cy="160.4" r="2.65"/><circle cx="563.2" cy="163.3" r="2.65"/><circle cx="571.4" cy="162.3" r="2.65"/><circle cx="582.0" cy="163.3" r="2.65"/><circle cx="591.8" cy="139.6" r="2.65"/><circle cx="614.6" cy="149.4" r="2.65"/><circle cx="614.5" cy="158.2" r="2.65"/><circle cx="551.7" cy="151.3" r="2.65"/><circle cx="568.8" cy="157.2" r="2.65"/><circle cx="557.6" cy="159.9" r="2.65"/><circle cx="563.5" cy="163.1" r="2.65"/><circle cx="572.7" cy="163.8" r="2.65"/><circle cx="575.3" cy="167.1" r="2.65"/><circle cx="581.9" cy="164.2" r="2.65"/><circle cx="583.2" cy="168.4" r="2.65"/><circle cx="598.5" cy="163.8" r="2.65"/><circle cx="599.6" cy="173.0" r="2.65"/><circle cx="591.8" cy="174.3" r="2.65"/><circle cx="597.3" cy="182.2" r="2.65"/><circle cx="590.4" cy="185.5" r="2.65"/><circle cx="586.8" cy="185.7" r="2.65"/><circle cx="579.3" cy="188.1" r="2.65"/><circle cx="575.7" cy="188.4" r="2.65"/><circle cx="568.8" cy="189.4" r="2.65"/><circle cx="554.3" cy="191.4" r="2.65"/><circle cx="578.6" cy="173.7" r="2.65"/><circle cx="568.1" cy="169.7" r="2.65"/><circle cx="562.9" cy="172.3" r="2.65"/><circle cx="569.4" cy="180.2" r="2.65"/><circle cx="572.0" cy="180.9" r="2.65"/><circle cx="575.3" cy="179.6" r="2.65"/><circle cx="578.6" cy="178.9" r="2.65"/><circle cx="582.6" cy="178.3" r="2.65"/><circle cx="585.2" cy="178.9" r="2.65"/><circle cx="586.5" cy="180.0" r="2.65"/><circle cx="560.2" cy="178.3" r="2.65"/><circle cx="562.9" cy="182.9" r="2.65"/><circle cx="557.6" cy="184.2" r="2.65"/><circle cx="560.0" cy="190.0" r="2.65"/><circle cx="565.0" cy="185.0" r="2.65"/><circle cx="547.0" cy="160.0" r="2.65"/><circle cx="545.0" cy="170.0" r="2.65"/><circle cx="550.0" cy="186.0" r="2.65"/></g><g fill="rgb(65,105,225)" fill-opacity="0.7"><circle cx="485.4" cy="55.0" r="2.65"/><circle cx="484.9" cy="91.4" r="2.65"/><circle cx="484.3" cy="100.7" r="2.65"/><circle cx="482.5" cy="120.2" r="2.65"/><circle cx="485.5" cy="129.3" r="2.65"/><circle cx="484.7" cy="148.0" r="2.65"/><circle cx="470.7" cy="165.6" r="2.65"/><circle cx="485.3" cy="190.4" r="2.65"/></g>
<line x1="486.66" y1="241.6" x2="486.66" y2="20.8" stroke="#222" stroke-width="1.3" stroke-dasharray="1 3 4 3" stroke-dashoffset="1.7"/>
<line x1="532.94" y1="241.6" x2="532.94" y2="20.8" stroke="#222" stroke-width="1.3" stroke-dasharray="1 3 4 3" stroke-dashoffset="1.7"/>
<line x1="380.0" y1="194.79" x2="640.0" y2="194.79" stroke="#222" stroke-width="1.3" stroke-dasharray="4 3 1 3" stroke-dashoffset="-3"/>
<rect x="380.0" y="20.8" width="260.0" height="220.79999999999998" fill="none" stroke="#1e1e1e" stroke-width="1.5"/>
<line x1="430.7" y1="241.6" x2="430.7" y2="243.79999999999998" stroke="#333" stroke-width="0.8"/>
<text x="430.7" y="250.9" font-size="8.6" font-weight="bold" text-anchor="middle">-2</text>
<line x1="509.8" y1="241.6" x2="509.8" y2="243.79999999999998" stroke="#333" stroke-width="0.8"/>
<text x="509.8" y="250.9" font-size="8.6" font-weight="bold" text-anchor="middle">0</text>
<line x1="588.9" y1="241.6" x2="588.9" y2="243.79999999999998" stroke="#333" stroke-width="0.8"/>
<text x="588.9" y="250.9" font-size="8.6" font-weight="bold" text-anchor="middle">2</text>
<line x1="377.8" y1="232.3" x2="380.0" y2="232.3" stroke="#333" stroke-width="0.8"/>
<text x="376.70000000000005" y="235.4" font-size="8.6" font-weight="bold" text-anchor="end">0</text>
<line x1="377.8" y1="174.64" x2="380.0" y2="174.64" stroke="#333" stroke-width="0.8"/>
<text x="376.70000000000005" y="177.73999999999998" font-size="8.6" font-weight="bold" text-anchor="end">2</text>
<line x1="377.8" y1="116.98" x2="380.0" y2="116.98" stroke="#333" stroke-width="0.8"/>
<text x="376.70000000000005" y="120.08" font-size="8.6" font-weight="bold" text-anchor="end">4</text>
<line x1="377.8" y1="59.32" x2="380.0" y2="59.32" stroke="#333" stroke-width="0.8"/>
<text x="376.70000000000005" y="62.42" font-size="8.6" font-weight="bold" text-anchor="end">6</text>
<text x="510.1" y="263.3" font-size="11.9" text-anchor="middle">log2(FC)</text>
<text transform="translate(368.0,131.2) rotate(-90)" font-size="11.9" text-anchor="middle">-log10(p-value)</text>
<circle cx="655.0" cy="122.8" r="2.8" fill="rgb(65,105,225)" fill-opacity="0.7"/>
<text x="663.3" y="125.7" font-size="8.7">Down</text>
<circle cx="655.0" cy="132.9" r="2.8" fill="rgb(190,190,190)" fill-opacity="0.7"/>
<text x="663.3" y="135.8" font-size="8.7">No</text>
<circle cx="655.0" cy="143.0" r="2.8" fill="rgb(248,58,85)" fill-opacity="0.7"/>
<text x="663.3" y="145.9" font-size="8.7">Up</text>
<text x="115.6" y="311.9" font-size="22.5" font-weight="bold">c</text>
<defs><clipPath id="cb"><ellipse cx="265.1" cy="465.8" rx="139.4" ry="130"/></clipPath><clipPath id="cr"><ellipse cx="385.8" cy="466.1" rx="139.6" ry="130"/></clipPath></defs>
<ellipse cx="265.1" cy="465.8" rx="139.4" ry="130" fill="rgb(137,155,215)" stroke="rgb(95,112,202)" stroke-width="1.5"/>
<ellipse cx="385.8" cy="466.1" rx="139.6" ry="130" fill="rgb(230,138,137)"/>
<ellipse cx="385.8" cy="466.1" rx="139.6" ry="130" fill="rgb(168,92,122)" clip-path="url(#cb)"/>
<ellipse cx="265.1" cy="465.8" rx="139.4" ry="130" fill="none" stroke="rgb(148,72,128)" stroke-width="1.5" clip-path="url(#cr)"/>
<ellipse cx="385.8" cy="466.1" rx="139.6" ry="130" fill="none" stroke="rgb(222,92,100)" stroke-width="1.6"/>
<text x="131.5" y="334.7" font-size="18.5">GSE50223</text>
<text x="405.2" y="615.7" font-size="18.5">GSE103760</text>
<text x="188" y="472.8" font-size="25" text-anchor="middle">163</text>
<text x="322.6" y="471.8" font-size="25" text-anchor="middle">11</text>
<text x="463.2" y="473.6" font-size="25" text-anchor="middle">453</text>
</svg></body></html>
